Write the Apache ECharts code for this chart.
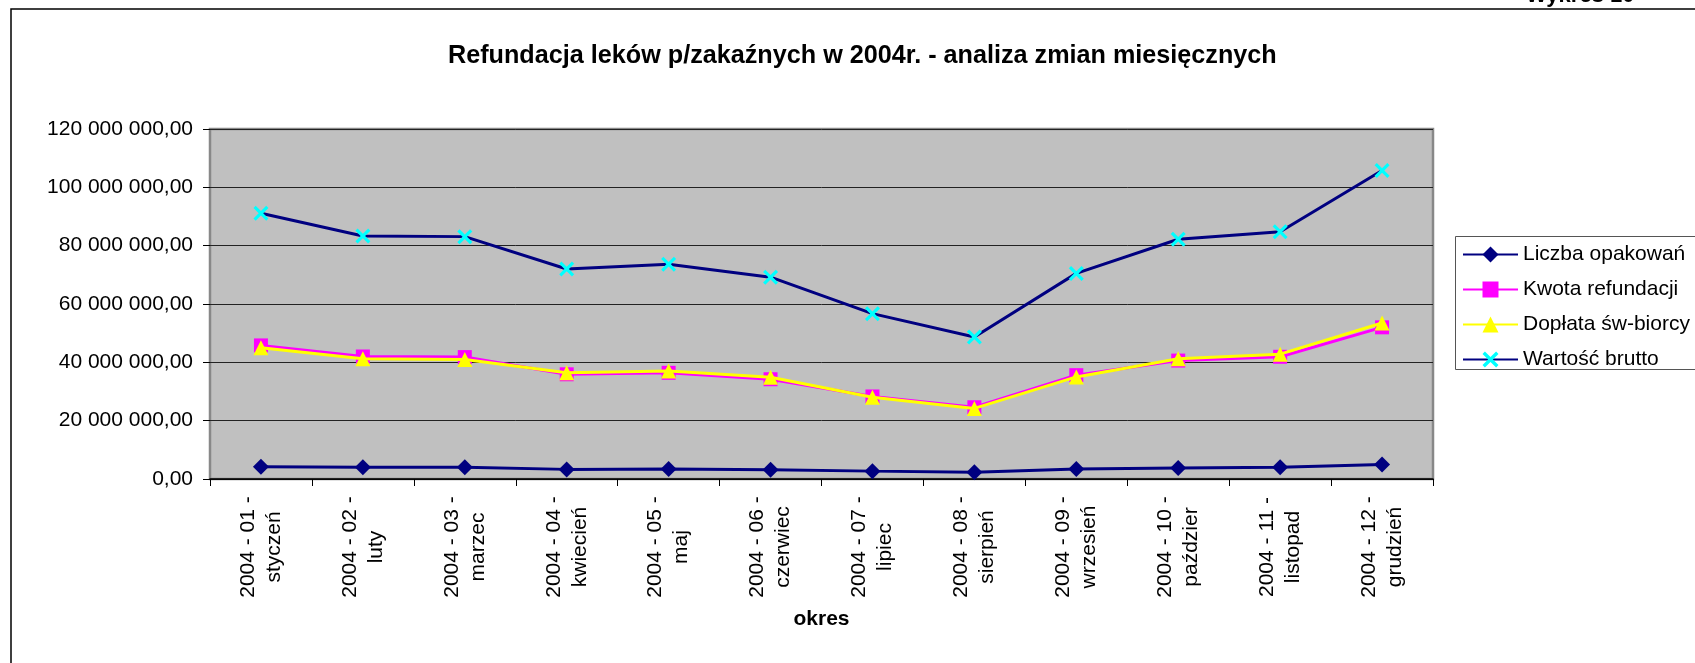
<!DOCTYPE html>
<html>
<head>
<meta charset="utf-8">
<script src="https://cdn.jsdelivr.net/npm/echarts@6/dist/echarts.min.js"></script>
<style>
  html, body { margin: 0; padding: 0; background: #ffffff; }
  #chart { width: 1695px; height: 663px; }
</style>
</head>
<body>
<div id="chart"></div>
<script>
// Monthly refund figures for anti-infective drugs, 2004
const periods = [
  '2004 - 01 -\nstyczeń', '2004 - 02 -\nluty', '2004 - 03 -\nmarzec',
  '2004 - 04 -\nkwiecień', '2004 - 05 -\nmaj', '2004 - 06 -\nczerwiec',
  '2004 - 07 -\nlipiec', '2004 - 08 -\nsierpień', '2004 - 09 -\nwrzesień',
  '2004 - 10 -\npaździer', '2004 - 11 -\nlistopad', '2004 - 12 -\ngrudzień'
];
const liczbaOpakowan = [4200000, 4000000, 4000000, 3300000, 3400000, 3200000, 2700000, 2300000, 3400000, 3800000, 4000000, 5000000];
const kwotaRefundacji = [45800000, 42000000, 41800000, 35900000, 36400000, 34200000, 28300000, 24600000, 35600000, 40600000, 41900000, 52000000];
const doplataSwBiorcy = [45000000, 41200000, 41000000, 36400000, 37000000, 34900000, 28000000, 24200000, 35000000, 41200000, 42800000, 53500000];
const wartoscBrutto = [91100000, 83300000, 83100000, 72000000, 73600000, 69200000, 56700000, 48700000, 70500000, 82200000, 84800000, 105800000];
const yTicks = { min: 0, max: 120000000, step: 20000000 };

const FONT = '"Liberation Sans", Arial, sans-serif';
const CROSS = 'path://M0,1.5L1.5,0L5,3.5L8.5,0L10,1.5L6.5,5L10,8.5L8.5,10L5,6.5L1.5,10L0,8.5L3.5,5Z';

function plNumber(v) {
  const parts = v.toFixed(2).split('.');
  return parts[0].replace(/\B(?=(\d{3})+(?!\d))/g, ' ') + ',' + parts[1];
}

const chart = echarts.init(document.getElementById('chart'), null, { renderer: 'canvas' });

chart.setOption({
  backgroundColor: '#ffffff',
  animation: false,
  textStyle: { fontFamily: FONT },
  title: {
    text: 'Refundacja leków p/zakaźnych w 2004r. - analiza zmian miesięcznych',
    left: 448,
    top: 44,
    padding: 0,
    textStyle: { fontFamily: FONT, fontSize: 25.2, fontWeight: 'bold', color: '#000' }
  },
  graphic: [
    {
      type: 'rect',
      shape: { x: 11, y: 9, width: 2000, height: 1000 },
      style: { fill: 'none', stroke: '#000', lineWidth: 1.5 },
      silent: true
    },
    {
      type: 'text',
      x: 1526,
      y: 7,
      style: {
        text: 'Wykres 10',
        font: 'bold 22px ' + FONT,
        fill: '#000',
        verticalAlign: 'bottom',
        align: 'left'
      },
      silent: true
    },
    {
      type: 'rect',
      shape: { x: 1455.5, y: 236.5, width: 400, height: 133 },
      style: { fill: '#ffffff', stroke: '#555', lineWidth: 1 },
      silent: true,
      z: 1
    }
  ],
  legend: {
    orient: 'vertical',
    left: 1462,
    top: 244,
    padding: 0,
    itemWidth: 55,
    itemHeight: 20,
    itemGap: 14,
    z: 5,
    textStyle: { fontFamily: FONT, fontSize: 21, color: '#000', lineHeight: 20 },
    data: ['Liczba opakowań', 'Kwota refundacji', 'Dopłata św-biorcy', 'Wartość brutto']
  },
  grid: {
    left: 210,
    top: 129,
    width: 1223,
    height: 350,
    show: true,
    backgroundColor: '#C0C0C0',
    borderColor: '#888888',
    borderWidth: 2.5
  },
  xAxis: {
    type: 'category',
    data: periods,
    boundaryGap: true,
    name: 'okres',
    nameLocation: 'middle',
    nameGap: 130,
    nameTextStyle: { fontFamily: FONT, fontSize: 21, fontWeight: 'bold', color: '#000' },
    axisLine: { show: true, lineStyle: { color: '#000', width: 1.5 } },
    axisTick: { show: true, length: 7, lineStyle: { color: '#000' } },
    splitLine: { show: false },
    axisLabel: {
      interval: 0,
      rotate: 90,
      align: 'center',
      verticalAlign: 'middle',
      margin: 68,
      lineHeight: 26,
      fontFamily: FONT,
      fontSize: 21,
      color: '#000'
    }
  },
  yAxis: {
    type: 'value',
    min: yTicks.min,
    max: yTicks.max,
    interval: yTicks.step,
    axisLine: { show: false },
    axisTick: { show: true, length: 7, lineStyle: { color: '#000' } },
    splitLine: { show: true, lineStyle: { color: '#222', width: 1 } },
    axisLabel: {
      margin: 17,
      fontFamily: FONT,
      fontSize: 21,
      color: '#000',
      formatter: plNumber
    }
  },
  series: [
    {
      name: 'Liczba opakowań',
      type: 'line',
      data: liczbaOpakowan,
      symbol: 'diamond',
      symbolSize: 16,
      lineStyle: { color: '#000080', width: 3 },
      itemStyle: { color: '#000080' },
      z: 3
    },
    {
      name: 'Kwota refundacji',
      type: 'line',
      data: kwotaRefundacji,
      symbol: 'rect',
      symbolSize: 14,
      lineStyle: { color: '#FF00FF', width: 3 },
      itemStyle: { color: '#FF00FF' },
      z: 3
    },
    {
      name: 'Dopłata św-biorcy',
      type: 'line',
      data: doplataSwBiorcy,
      symbol: 'triangle',
      symbolSize: 15,
      lineStyle: { color: '#FFFF00', width: 3 },
      itemStyle: { color: '#FFFF00' },
      z: 4
    },
    {
      name: 'Wartość brutto',
      type: 'line',
      data: wartoscBrutto,
      symbol: CROSS,
      symbolSize: 15,
      lineStyle: { color: '#000080', width: 3 },
      itemStyle: { color: '#00FFFF' },
      z: 5
    }
  ]
});
</script>
</body>
</html>
